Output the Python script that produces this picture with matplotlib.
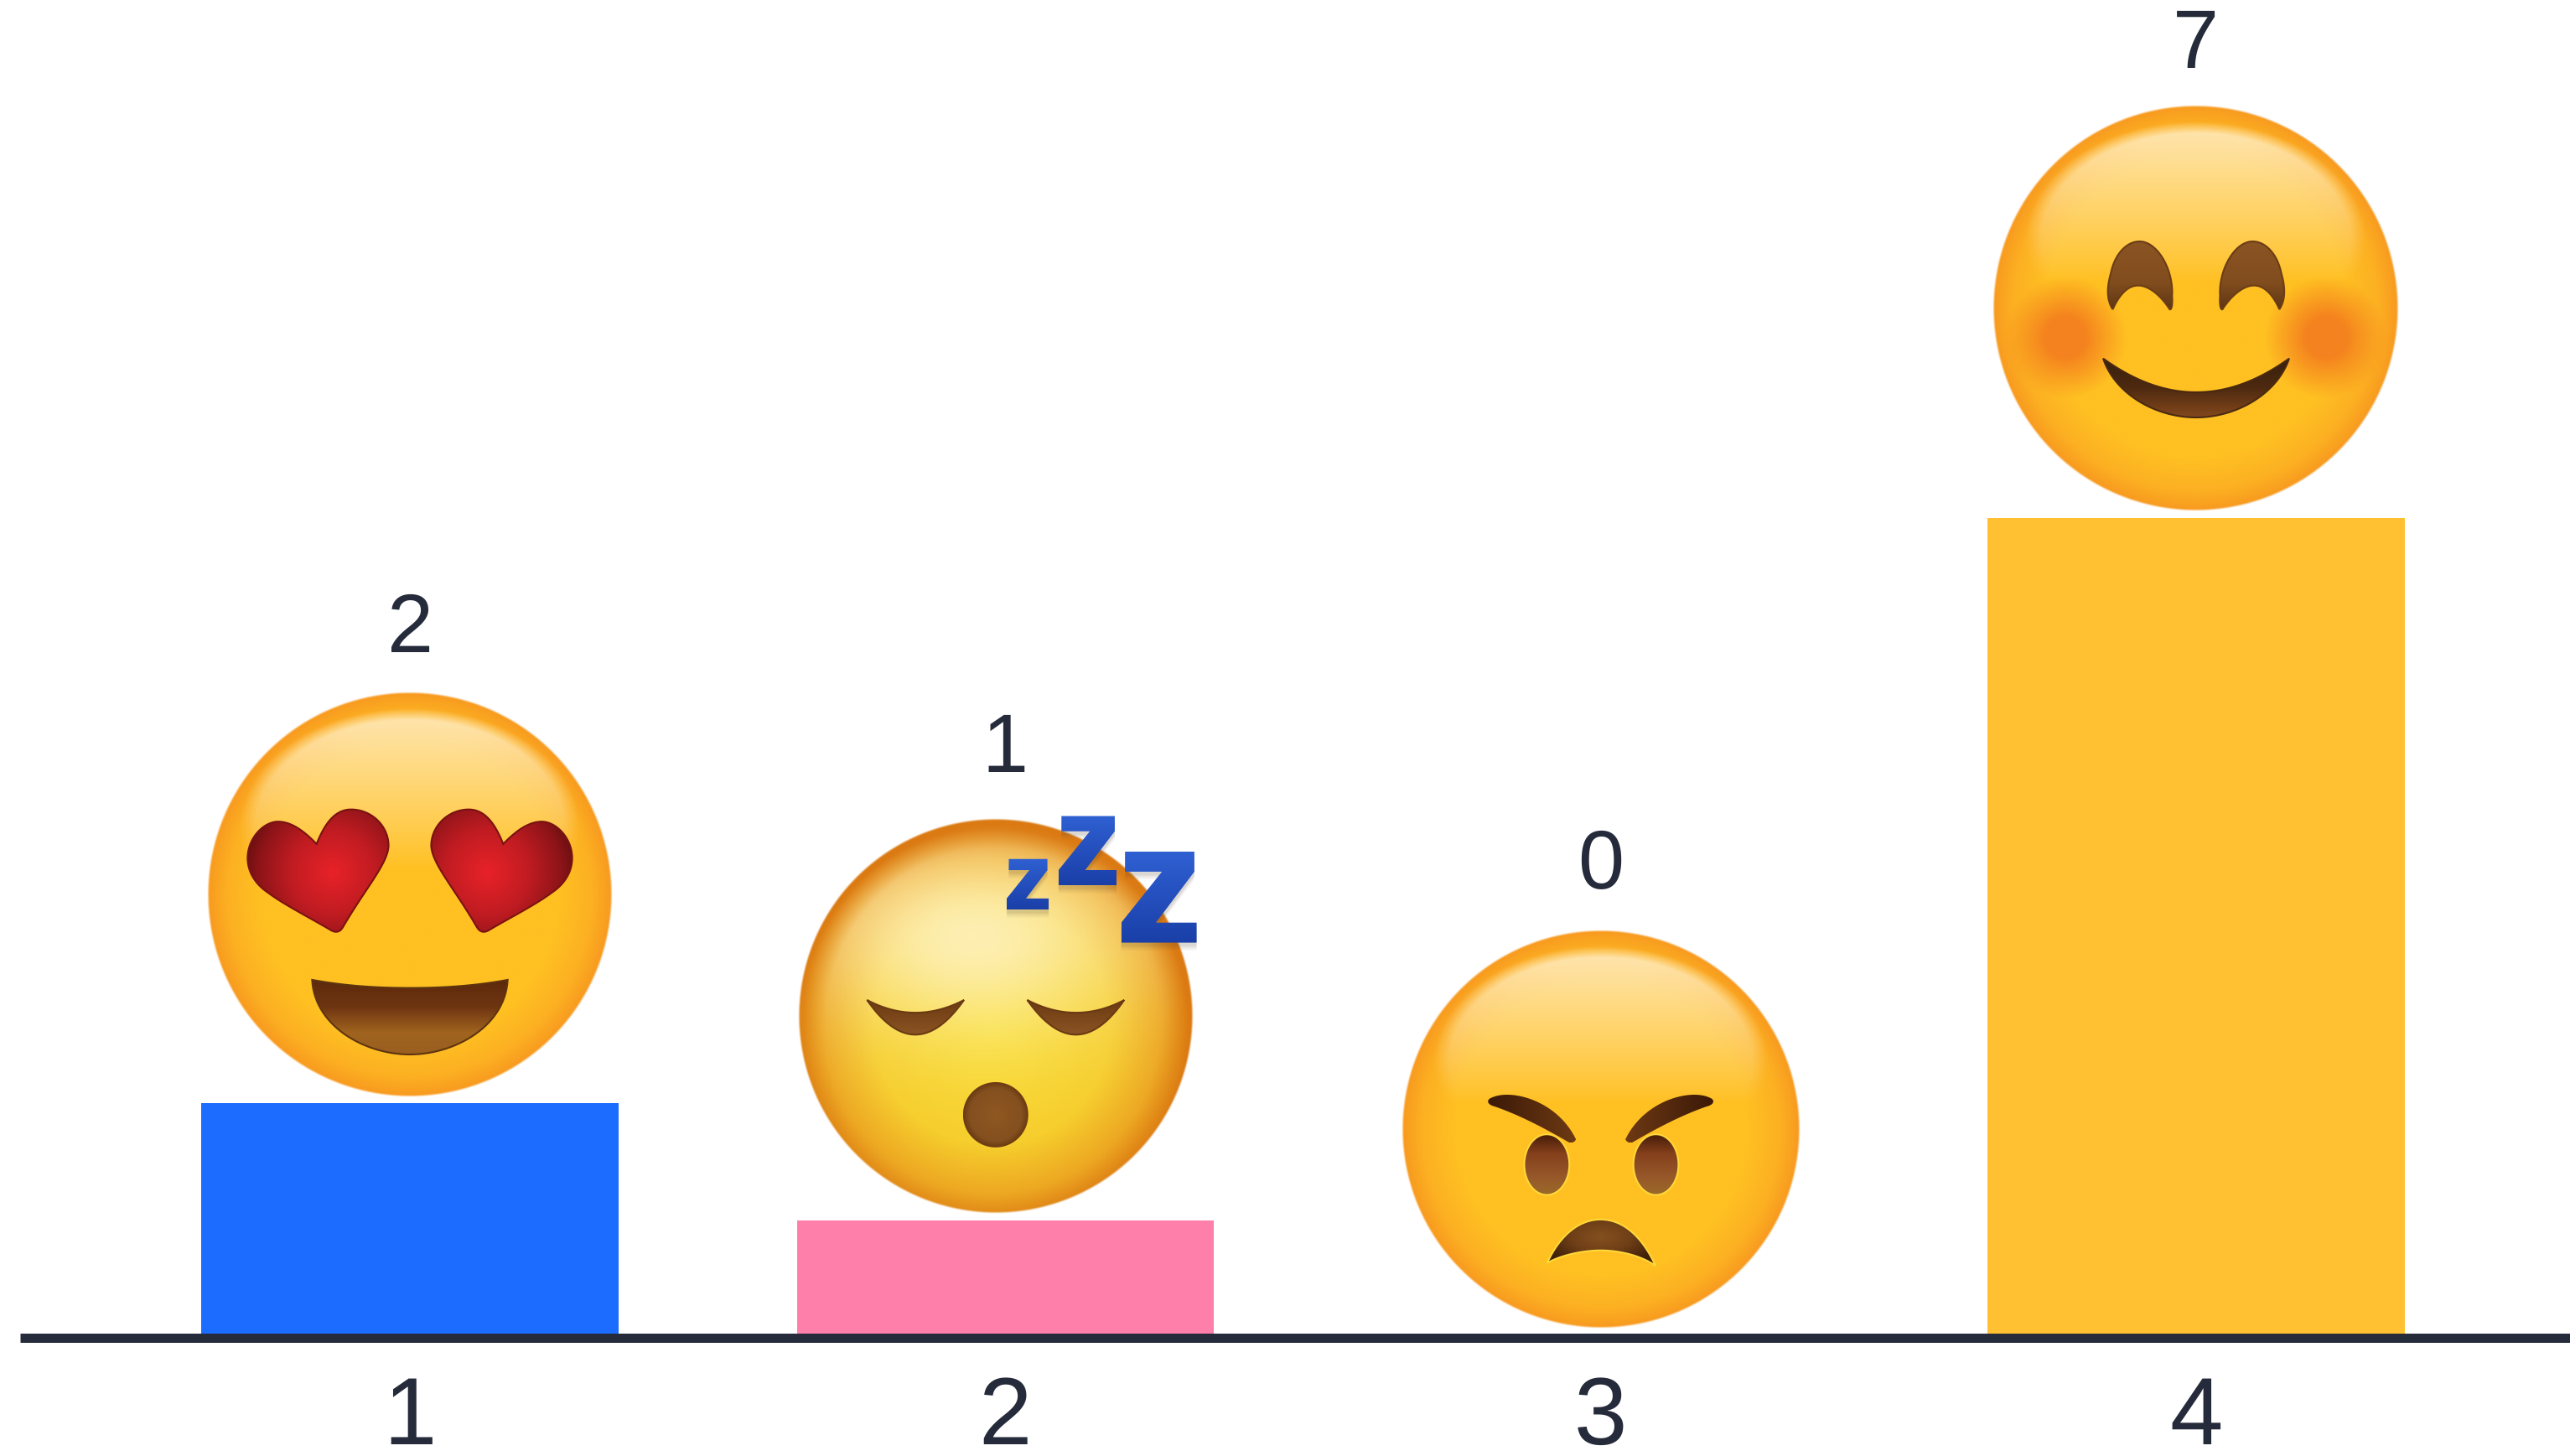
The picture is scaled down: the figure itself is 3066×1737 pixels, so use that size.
"""Bar chart of four moods with an emoji sitting on top of each bar."""

import numpy as np
import matplotlib
matplotlib.use("Agg")
import matplotlib.pyplot as plt
from matplotlib.patches import PathPatch
from matplotlib.path import Path
from matplotlib.transforms import Affine2D

plt.rcParams["font.family"] = ["Liberation Sans", "DejaVu Sans"]
plt.rcParams["text.hinting"] = "none"
plt.rcParams["text.hinting_factor"] = 1

categories = ["1", "2", "3", "4"]
values = [2, 1, 0, 7]
bar_colors = ["#1B6CFF", "#FF7FAB", "#FFFFFF", "#FFC132"]
emoji_kinds = ["hearts", "sleepy", "angry", "smile"]

INK = "#252B3A"

# emoji size and placement, in output pixels
EMOJI_R = [242, 236, 238, 242.5]
EMOJI_DX = [0, -11.5, 0, 0]
EMOJI_GAP = [7, 8, 10, 8]
LABEL_PAD = [47, 55, 49, 44]

fig = plt.figure(figsize=(30.66, 17.37), dpi=100)
ax = fig.add_axes([0, 0, 1, 1])
ax.set_xlim(-489 / 710.3, (3066 - 489) / 710.3)
ax.set_ylim(-141.5 / 139.6, 1595.5 / 139.6)
ax.set_autoscale_on(False)

x = np.arange(len(categories))
ax.bar(x, values, width=0.7, color=bar_colors, zorder=1)

# only the baseline stays
for side in ("top", "left", "right"):
    ax.spines[side].set_visible(False)
ax.spines["bottom"].set_position(("data", 0))
ax.spines["bottom"].set_bounds(-465 / 710.3, ax.get_xlim()[1])
ax.spines["bottom"].set_linewidth(7.9)
ax.spines["bottom"].set_color(INK)
ax.spines["bottom"].set_capstyle("butt")
ax.spines["bottom"].set_zorder(3)
ax.set_yticks([])
ax.set_xticks(x, categories)
ax.tick_params(axis="x", length=0, pad=32, labelsize=82, labelcolor=INK)
ax.patch.set_visible(False)


def hexrgb(c):
    return np.array(matplotlib.colors.to_rgb(c))


def ramp(t, stops):
    # stops is a list of (position, colour)
    t = np.clip(t, 0, 1)
    pos = [s[0] for s in stops]
    cols = np.array([hexrgb(s[1]) for s in stops])
    return np.stack([np.interp(t, pos, cols[:, k]) for k in range(3)], axis=-1)


def bez(start, *segments, n=30):
    # outline from cubic segments, each (control1, control2, end)
    out = [np.array(start, dtype=float)]
    p0 = np.array(start, dtype=float)
    for c1, c2, p3 in segments:
        c1, c2, p3 = np.array(c1), np.array(c2), np.array(p3)
        for t in np.linspace(0, 1, n + 1)[1:]:
            s = 1 - t
            out.append(s ** 3 * p0 + 3 * s * s * t * c1 + 3 * s * t * t * c2 + t ** 3 * p3)
        p0 = p3
    return np.array(out)


def crescent(t1, t2, top, low, n=40):
    # two parabolas between the tips, through the upper and lower mid points
    t1, t2, top, low = map(lambda p: np.array(p, dtype=float), (t1, t2, top, low))
    s = np.linspace(0, 1, n)[:, None]
    ctop = 2 * top - (t1 + t2) / 2
    clow = 2 * low - (t1 + t2) / 2
    up = (1 - s) ** 2 * t1 + 2 * s * (1 - s) * ctop + s ** 2 * t2
    dn = (1 - s) ** 2 * t2 + 2 * s * (1 - s) * clow + s ** 2 * t1
    return np.vstack([up, dn[1:]])


def flip(outline):
    return outline * [-1, 1]


def ellipse(cu, cv, ru, rv):
    a = np.linspace(0, 2 * np.pi, 90, endpoint=False)
    return np.column_stack([cu + ru * np.cos(a), cv + rv * np.sin(a)])


def fill_shape(tr, outline, shade, edge=None, lw=1.5, z=6):
    path = Path(np.vstack([outline, outline[0]]), closed=True)
    (u0, v0), (u1, v1) = outline.min(axis=0), outline.max(axis=0)
    U, V = np.meshgrid(np.linspace(u0, u1, 160), np.linspace(v0, v1, 160))
    im = ax.imshow(shade(U, V), extent=(u0, u1, v0, v1), origin="lower", aspect="auto",
                   interpolation="bilinear", transform=tr, zorder=z)
    patch = PathPatch(path, transform=tr, fc="none", ec=edge if edge else "none",
                      lw=lw, zorder=z + 0.1)
    ax.add_patch(patch)
    im.set_clip_path(patch)


def over(base, color, alpha):
    return base * (1 - alpha[..., None]) + hexrgb(color) * alpha[..., None]


def soft(d, edge, width):
    # 1 inside, 0 outside, smooth over width
    return np.clip((edge - d) / width + 0.5, 0, 1)


def draw_face(tr, kind, z=5):
    n = 700
    U, V = np.meshgrid(np.linspace(-1, 1, n), np.linspace(-1, 1, n))
    R = np.hypot(U, V)
    if kind == "sleepy":
        D = np.hypot(U + 0.02, V + 0.05)
        rgb = ramp(D, [(0, "#F9DE35"), (0.6, "#F6CE2C"), (0.85, "#EDA822"), (1.0, "#DB7A12")])
        g = np.hypot((U + 0.12) / 0.85, (V - 0.40) / 0.5)
        fade = np.clip((0.97 - R) / 0.12, 0, 1)
        rgb = over(rgb, "#FFF6D2", 0.8 * np.exp(-g ** 2 * 1.1) * fade)
    else:
        rgb = ramp(R, [(0, "#FFC022"), (0.74, "#FFC022"), (0.9, "#FCB022"), (1.0, "#F8991F")])
        g = np.hypot(U / 0.8, (V - 0.33) / 0.56)
        fade = np.clip((V - 0.13) / 0.72, 0, 1) ** 0.9
        rgb = over(rgb, "#FFEBC0", 0.85 * fade * soft(g, 1.0, 0.1))
    if kind == "smile":
        for cu in (-0.643, 0.643):
            d = np.hypot(U - cu, V + 0.144)
            rgb = over(rgb, "#F47F1E", 0.95 * soft(d, 0.2, 0.2))
    alpha = soft(R, 0.995, 0.01)[..., None]
    img = np.concatenate([rgb, alpha], axis=-1)
    ax.imshow(img, extent=(-1, 1, -1, 1), origin="lower", aspect="auto",
              interpolation="bilinear", transform=tr, zorder=z)


def draw_hearts(tr):
    heart = bez((-0.46, 0.25),
                ((-0.42, 0.35), (-0.37, 0.42), (-0.29, 0.42)),
                ((-0.19, 0.42), (-0.105, 0.34), (-0.105, 0.24)),
                ((-0.11, 0.15), (-0.22, 0.03), (-0.33, -0.16)),
                ((-0.345, -0.185), (-0.365, -0.19), (-0.39, -0.175)),
                ((-0.50, -0.11), (-0.62, -0.05), (-0.70, 0.01)),
                ((-0.76, 0.05), (-0.80, 0.11), (-0.80, 0.18)),
                ((-0.80, 0.28), (-0.72, 0.36), (-0.65, 0.36)),
                ((-0.57, 0.36), (-0.50, 0.29), (-0.46, 0.25)))

    def shade_l(U, V):
        return ramp(np.hypot(U + 0.38, V - 0.11) / 0.46,
                    [(0, "#E82228"), (0.45, "#C01C22"), (0.8, "#8C1418"), (1, "#5E0E10")])

    fill_shape(tr, heart, shade_l, edge="#7A1210")
    fill_shape(tr, flip(heart), lambda U, V: shade_l(-U, V), edge="#7A1210")
    mouth = bez((-0.482, -0.42),
                ((-0.32, -0.45), (-0.16, -0.46), (0, -0.46)),
                ((0.16, -0.46), (0.32, -0.45), (0.482, -0.42)),
                ((0.47, -0.65), (0.22, -0.788), (0, -0.788)),
                ((-0.22, -0.788), (-0.47, -0.65), (-0.482, -0.42)))
    fill_shape(tr, mouth,
               lambda U, V: ramp((-0.43 - V) / 0.36,
                                 [(0, "#5E2A0C"), (0.35, "#6F3511"), (0.7, "#A0641F"), (1, "#9A5F20")]),
               edge="#5E3410")


def z_shape(u0, u1, v0, v1):
    w, h = u1 - u0, v1 - v0
    bar = 0.22 * h
    return np.array([(u0 + 0.05 * w, v1), (u1 - 0.03 * w, v1), (u1 - 0.03 * w, v1 - bar),
                     (u0 + 0.46 * w, v0 + bar), (u1, v0 + bar), (u1, v0), (u0, v0),
                     (u0, v0 + bar), (u1 - 0.46 * w, v1 - bar), (u0 + 0.05 * w, v1 - bar)])


def draw_sleepy(tr):
    eye = crescent((-0.65, 0.08), (-0.16, 0.08), (-0.406, 0.016), (-0.406, -0.095))
    brown = lambda U, V: ramp((0.08 - V) / 0.18, [(0, "#6B3A12"), (1, "#8B5423")])
    fill_shape(tr, eye, brown, edge="#6B3A12")
    fill_shape(tr, flip(eye), brown, edge="#6B3A12")
    fill_shape(tr, ellipse(0, -0.50, 0.165, 0.165),
               lambda U, V: ramp(np.hypot(U, V + 0.5) / 0.165,
                                 [(0, "#8F5722"), (0.8, "#84501F"), (1, "#6B3A12")]))
    # z z z with a soft shadow under them
    boxes = [(0.056, 0.268, 0.537, 0.793), (0.318, 0.611, 0.66, 1.01), (0.635, 1.016, 0.37, 0.83)]
    for box in boxes:
        shape = z_shape(*box)
        for off, a in ((0.04, 0.05), (0.03, 0.07), (0.02, 0.10)):
            ax.add_patch(PathPatch(Path(np.vstack([shape, shape[0]]) + [0, -off], closed=True),
                                   transform=tr, fc="#5A4A30", ec="none", alpha=a, zorder=6.5))
    for box in boxes:
        lo, hi = box[2], box[3]
        fill_shape(tr, z_shape(*box),
                   lambda U, V, lo=lo, hi=hi: ramp((hi - V) / (hi - lo),
                                                   [(0, "#2F60D2"), (1, "#1A3FA8")]),
                   z=7)


def draw_angry(tr):
    brow = bez((-0.556, 0.155),
               ((-0.46, 0.21), (-0.22, 0.15), (-0.124, -0.049)),
               ((-0.13, -0.065), (-0.15, -0.07), (-0.162, -0.063)),
               ((-0.27, 0.0), (-0.40, 0.07), (-0.53, 0.115)),
               ((-0.57, 0.125), (-0.57, 0.145), (-0.556, 0.155)))

    def brow_l(U, V):
        return ramp((U + 0.55) / 0.43, [(0, "#3D1A08"), (1, "#6E3A14")])

    fill_shape(tr, brow, brow_l, z=7)
    fill_shape(tr, flip(brow), lambda U, V: brow_l(-U, V), z=7)
    iris = lambda U, V: ramp((-0.03 - V) / 0.3,
                             [(0, "#4A1F0A"), (0.3, "#84401C"), (0.7, "#97592A"), (1, "#9C6A28")])
    fill_shape(tr, ellipse(-0.27, -0.176, 0.113, 0.152), iris, edge="#FFD83A", lw=1.5)
    fill_shape(tr, ellipse(0.277, -0.176, 0.113, 0.152), iris, edge="#FFD83A", lw=1.5)
    mouth = bez((-0.268, -0.669),
                ((-0.2, -0.52), (-0.1, -0.451), (0, -0.451)),
                ((0.1, -0.451), (0.2, -0.52), (0.275, -0.683)),
                ((0.2, -0.63), (0.09, -0.606), (0, -0.606)),
                ((-0.09, -0.606), (-0.2, -0.63), (-0.268, -0.669)))
    fill_shape(tr, mouth,
               lambda U, V: ramp(np.hypot(U / 0.3, (V + 0.54) / 0.15),
                                 [(0, "#85501F"), (0.5, "#6F3F17"), (1, "#3F2009")]),
               edge="#FFD83A", lw=1.5)


def draw_smile(tr):
    eye = bez((-0.41, -0.005),
              ((-0.44, 0.04), (-0.44, 0.10), (-0.42, 0.17)),
              ((-0.40, 0.27), (-0.34, 0.329), (-0.278, 0.329)),
              ((-0.19, 0.329), (-0.11, 0.19), (-0.118, 0.06)),
              ((-0.115, 0.02), (-0.12, -0.01), (-0.13, -0.005)),
              ((-0.165, 0.05), (-0.225, 0.112), (-0.285, 0.112)),
              ((-0.345, 0.112), (-0.385, 0.05), (-0.41, -0.005)))
    brown = lambda U, V: ramp((0.33 - V) / 0.34, [(0, "#8B5423"), (0.6, "#824D1E"), (1, "#5E3614")])
    fill_shape(tr, eye, brown, edge="#6B3D15")
    fill_shape(tr, flip(eye), brown, edge="#6B3D15")
    mouth = bez((-0.457, -0.247),
                ((-0.30, -0.36), (-0.15, -0.413), (0, -0.413)),
                ((0.15, -0.413), (0.30, -0.36), (0.458, -0.247)),
                ((0.40, -0.42), (0.20, -0.537), (0, -0.537)),
                ((-0.20, -0.537), (-0.40, -0.42), (-0.457, -0.247)))
    fill_shape(tr, mouth,
               lambda U, V: ramp((-0.25 - V) / 0.29,
                                 [(0, "#38200E"), (0.5, "#4E2A10"), (1, "#85491D")]),
               edge="#4A2A10")


drawers = {"hearts": draw_hearts, "sleepy": draw_sleepy, "angry": draw_angry, "smile": draw_smile}

to_px = ax.transData
for i, (kind, val) in enumerate(zip(emoji_kinds, values)):
    px, py = to_px.transform((i, val))
    r = EMOJI_R[i]
    cy = py + EMOJI_GAP[i] + r
    tr = Affine2D().scale(r).translate(px + EMOJI_DX[i], cy)
    draw_face(tr, kind)
    drawers[kind](tr)
    # value label above the emoji
    label_y = to_px.inverted().transform((px, cy + r + LABEL_PAD[i]))[1]
    ax.text(i, label_y, str(val), ha="center", va="baseline", fontsize=71, color=INK, zorder=8)

fig.savefig("out.png", dpi=100, facecolor="white")
